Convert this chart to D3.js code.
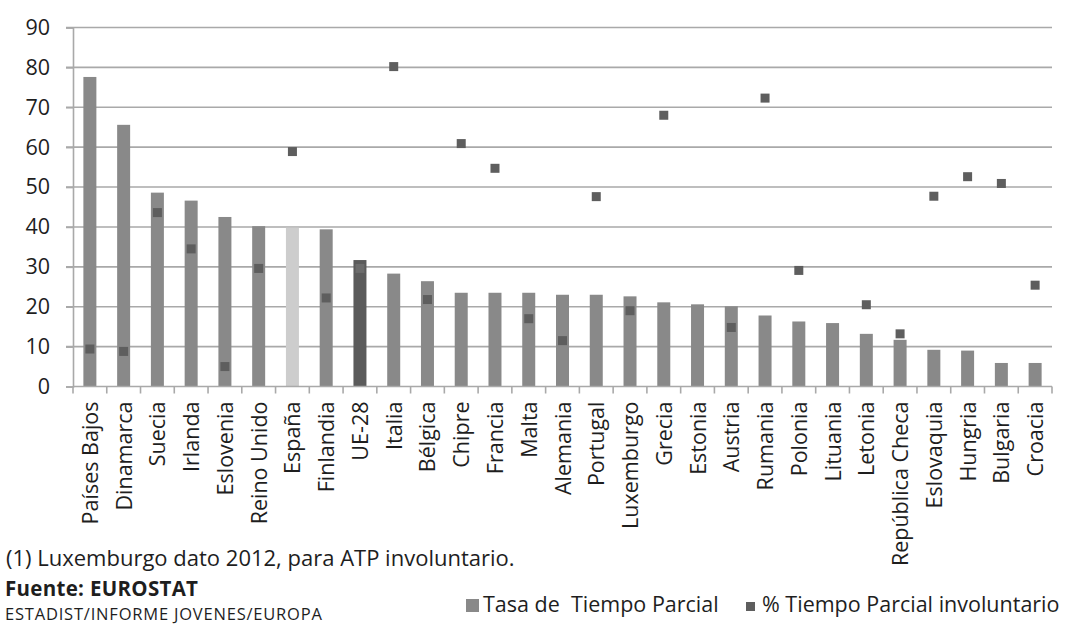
<!DOCTYPE html>
<html>
<head>
<meta charset="utf-8">
<script src="https://cdn.jsdelivr.net/npm/d3@7"></script>
<style>
  html, body { margin: 0; padding: 0; background: #fff; }
  svg { display: block; }
  text { font-family: "Open Sans", "Noto Sans", sans-serif; fill: #1e1e1e; }
</style>
</head>
<body>
<svg id="chart" width="1070" height="625"></svg>
<script>
// Part-time work rate and share of involuntary part-time, EU-28 countries
const countries = ["Países Bajos","Dinamarca","Suecia","Irlanda","Eslovenia","Reino Unido","España","Finlandia","UE-28","Italia","Bélgica","Chipre","Francia","Malta","Alemania","Portugal","Luxemburgo","Grecia","Estonia","Austria","Rumania","Polonia","Lituania","Letonia","República Checa","Eslovaquia","Hungria","Bulgaria","Croacia"];
const tasaTiempoParcial = [77.6,65.6,48.6,46.6,42.5,40.2,39.8,39.4,31.7,28.3,26.4,23.5,23.5,23.5,23.0,23.0,22.6,21.1,20.6,20.1,17.8,16.3,15.9,13.2,11.7,9.2,9.0,5.9,5.9];
const involuntario = [9.4,8.8,43.6,34.5,5.0,29.6,58.9,22.2,29.6,80.2,21.8,60.9,54.7,17.0,11.5,47.6,19.0,68.0,null,14.8,72.3,29.1,null,20.5,13.2,47.7,52.6,50.9,25.4];
const yTicks = [0,10,20,30,40,50,60,70,80,90];
const legendLabels = ["Tasa de  Tiempo Parcial", "% Tiempo Parcial involuntario"];

const svg = d3.select("#chart");
const margin = { left: 73, right: 18, top: 27.5, bottom: 238.5 };
const W = 1070, H = 625;
const fs = 21.5;

const x = d3.scaleBand().domain(countries).range([margin.left, W - margin.right]).padding(0);
const y = d3.scaleLinear().domain([0, 90]).range([H - margin.bottom, margin.top]);

const barColor = d => d === "España" ? "#cdcdcd" : d === "UE-28" ? "#5b5b5b" : "#898989";
const gridColor = "#a9a9a9";

// gridlines
svg.append("g").selectAll("line").data(yTicks.filter(t => t > 0)).join("line")
  .attr("x1", margin.left - 7).attr("x2", W - margin.right)
  .attr("y1", d => y(d)).attr("y2", d => y(d))
  .attr("stroke", gridColor).attr("stroke-width", 1.6);

// bars
const bw = x.bandwidth() * 0.385;
svg.append("g").selectAll("rect").data(countries).join("rect")
  .attr("x", d => x(d) + x.bandwidth() / 2 - bw / 2)
  .attr("width", bw)
  .attr("y", (d, i) => y(tasaTiempoParcial[i]))
  .attr("height", (d, i) => y(0) - y(tasaTiempoParcial[i]))
  .attr("fill", d => barColor(d));

// involuntary part-time markers
const ms = 9;
svg.append("g").selectAll("rect").data(countries.map((c, i) => ({ c, v: involuntario[i] })).filter(d => d.v != null)).join("rect")
  .attr("x", d => x(d.c) + x.bandwidth() / 2 - ms / 2)
  .attr("y", d => y(d.v) - ms / 2)
  .attr("width", ms).attr("height", ms)
  .attr("fill", d => d.c === "UE-28" ? "#6c6c6c" : "#5e5e5e");

// y axis
const yAxis = svg.append("g").attr("transform", `translate(${margin.left},0)`)
  .call(d3.axisLeft(y).tickValues(yTicks).tickSize(7).tickPadding(16).tickFormat(d3.format("d")));
yAxis.select(".domain").attr("stroke", gridColor).attr("stroke-width", 1.6);
yAxis.selectAll(".tick line").attr("stroke", gridColor).attr("stroke-width", 1.6);
yAxis.selectAll("text").attr("font-size", fs).attr("fill", "#1e1e1e").attr("font-family", "Open Sans");

// x axis baseline and category ticks
const bounds = countries.map(d => x(d)).concat([W - margin.right]);
svg.append("line").attr("x1", margin.left).attr("x2", W - margin.right)
  .attr("y1", y(0)).attr("y2", y(0)).attr("stroke", gridColor).attr("stroke-width", 1.6);
svg.append("g").selectAll("line").data(bounds).join("line")
  .attr("x1", d => d).attr("x2", d => d)
  .attr("y1", y(0)).attr("y2", y(0) + 7)
  .attr("stroke", gridColor).attr("stroke-width", 1.6);

// rotated category labels
svg.append("g").selectAll("text").data(countries).join("text")
  .attr("transform", d => `translate(${x(d) + x.bandwidth() / 2 + 8},${y(0) + 15}) rotate(-90)`)
  .attr("text-anchor", "end")
  .attr("font-size", fs)
  .text(d => d);

// notes
svg.append("text").attr("x", 6).attr("y", 566).attr("font-size", 22)
  .text("(1) Luxemburgo dato 2012, para ATP involuntario.");
svg.append("text").attr("x", 5).attr("y", 596).attr("font-size", 20.5).attr("font-weight", "bold")
  .attr("letter-spacing", 0.3)
  .text("Fuente: EUROSTAT");
svg.append("text").attr("x", 5).attr("y", 620).attr("font-size", 16.5)
  .attr("letter-spacing", 0.8)
  .text("ESTADIST/INFORME JOVENES/EUROPA");

// legend
const lg = svg.append("g");
lg.append("rect").attr("x", 466).attr("y", 599).attr("width", 13).attr("height", 13).attr("fill", "#898989");
lg.append("text").attr("x", 483).attr("y", 612).attr("font-size", 21.5).attr("xml:space", "preserve").text(legendLabels[0]);
lg.append("rect").attr("x", 746).attr("y", 602).attr("width", 9).attr("height", 9).attr("fill", "#5e5e5e");
lg.append("text").attr("x", 762).attr("y", 612).attr("font-size", 21.5).text(legendLabels[1]);
</script>
</body>
</html>
